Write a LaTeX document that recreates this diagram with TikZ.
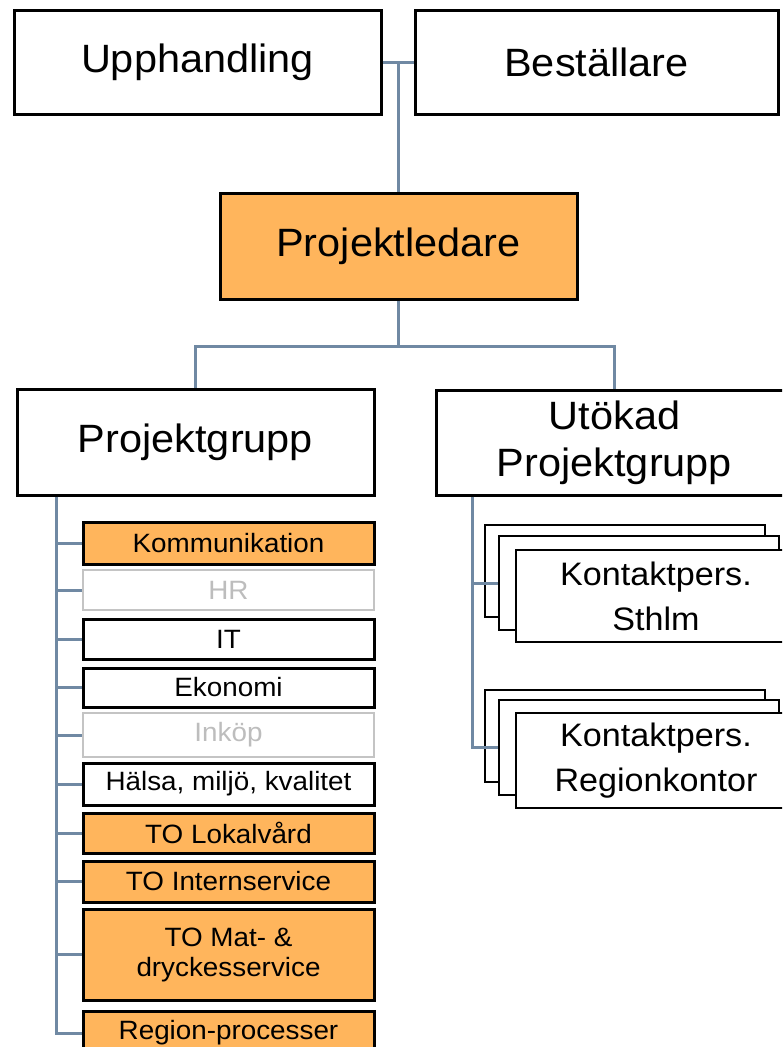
\documentclass[tikz,border=0pt]{standalone}
\usepackage{fontspec}
\setmainfont{Liberation Sans}[FakeStretch=1.05]
\usepackage{xcolor}
\definecolor{orgorange}{HTML}{FFB55C}
\definecolor{linkblue}{HTML}{7089A3}
\definecolor{greyline}{HTML}{C4C4C4}
\definecolor{greytext}{HTML}{BDBDBD}
\tikzset{
  box/.style={draw=black, line width=3pt, fill=white, inner sep=0pt, align=center, text=black},
  lead/.style={box, fill=orgorange},
  faint/.style={box, draw=greyline, line width=2.4pt, text=greytext},
  big/.style={font=\fontsize{39.5}{47}\selectfont},
  mid/.style={font=\fontsize{32.5}{45}\selectfont},
  small/.style={font=\fontsize{26.5}{30}\selectfont},
  link/.style={draw=linkblue, line width=3pt},
}

\begin{document}
\begin{tikzpicture}[x=1pt,y=-1pt]
\useasboundingbox (0,0) rectangle (782,1047);
\clip (0,0) rectangle (782,1047);

\node[box,big,minimum width=367pt,minimum height=104pt] (upph) at (197.5,62) {Upphandling};
\node[box,big,minimum width=363pt,minimum height=104pt] (best) at (596.5,62) {Beställare};
\node[lead,big,minimum width=357pt,minimum height=106pt] (pled) at (398.5,246) {Projektledare};
\node[box,big,minimum width=357pt,minimum height=106pt] (pgrp) at (195.5,442) {Projektgrupp};
\node[box,big,minimum width=357pt,minimum height=105pt] (utok) at (614.5,442.5) {Utökad\\Projektgrupp};

\foreach \nm/\y/\h/\st/\txt in {
    komm/543/42/lead/Kommunikation,
    hr/590/40/faint/HR,
    it/639/40/box/IT,
    eko/687.5/39/box/Ekonomi,
    ink/735/44/faint/Inköp,
    hmk/784/42/box/{Hälsa, miljö, kvalitet},
    lok/833/40/lead/TO Lokalvård,
    ints/881.5/41/lead/TO Internservice,
    mat/954.5/91/lead/{TO Mat- \&\\dryckesservice},
    reg/1033/44/lead/Region-processer}
  \node[\st,small,minimum width=291pt,minimum height=\h pt] (\nm) at (228.5,\y) {\txt};

\node[box,line width=2.6pt,minimum width=280pt,minimum height=92pt] (sthlmc) at (625,571) {};
\node[box,line width=2.6pt,minimum width=280pt,minimum height=94pt] (sthlmb) at (639,583) {};
\node[box,line width=2.6pt,mid,minimum width=280pt,minimum height=92pt] (sthlm) at (656,596) {Kontaktpers.\\Sthlm};
\node[box,line width=2.6pt,minimum width=280pt,minimum height=92pt] (regkc) at (625,736) {};
\node[box,line width=2.6pt,minimum width=280pt,minimum height=95pt] (regkb) at (639,747.5) {};
\node[box,line width=2.6pt,mid,minimum width=280pt,minimum height=95pt] (regk) at (656,760.5) {Kontaktpers.\\Regionkontor};

\draw[link] (upph.east) -- (best.west);
\draw[link] (pled.north) -- (pled.north |- upph.east);
\draw[link] (pled.south) -- ++(0,46) coordinate (fork);
\draw[link] (pgrp.north) |- (fork) -| (utok.north);

\coordinate (lspine) at (56,0);
\draw[link] (lspine |- pgrp.south) |- (reg.west);
\foreach \nm in {komm,hr,it,eko,ink,hmk,lok,ints,mat}
  \draw[link] (lspine |- \nm.west) -- (\nm.west);

\coordinate (rspine) at (472,0);
\draw[link] (rspine |- utok.south) |- (regkb.west);
\draw[link] (rspine |- sthlmb.west) -- (sthlmb.west);
\end{tikzpicture}
\end{document}
